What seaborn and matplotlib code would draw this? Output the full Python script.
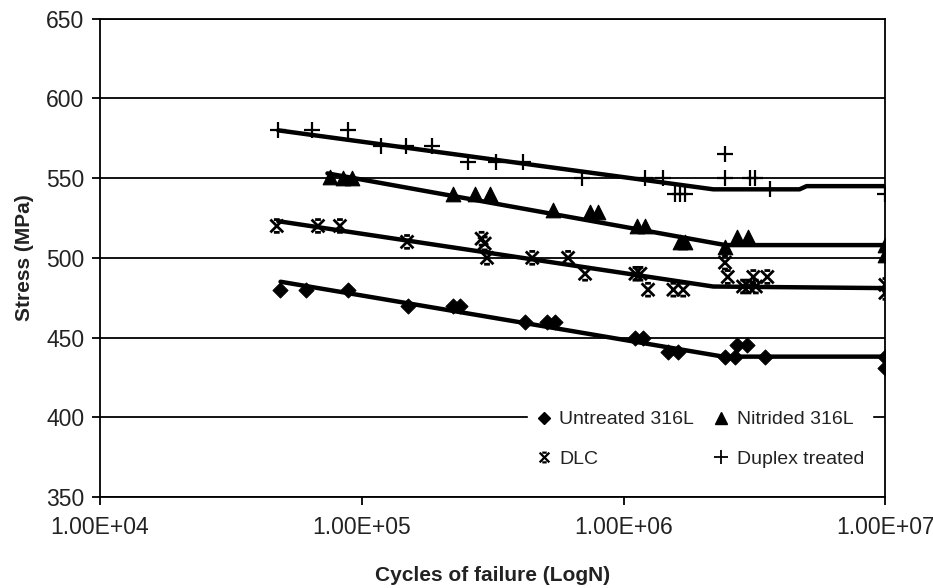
import numpy as np
import pandas as pd
import matplotlib
matplotlib.use("Agg")
import matplotlib.pyplot as plt
from matplotlib.path import Path
from matplotlib.lines import Line2D
from matplotlib.ticker import FixedLocator, FuncFormatter, NullLocator
import seaborn as sns

# measured points (cycles, stress MPa)
untreated_N = [4.88e4, 6.12e4, 8.87e4, 1.50e5, 2.23e5, 2.38e5, 4.21e5, 5.11e5, 5.48e5,
               1.11e6, 1.19e6, 1.48e6, 1.62e6, 2.44e6, 2.67e6, 2.72e6, 2.97e6, 3.48e6, 1e7, 1e7]
untreated_S = [480, 480, 480, 470, 470, 470, 460, 460, 460,
               450, 450, 441, 441, 438, 438, 445, 445, 438, 438, 431]

nitrided_N = [7.57e4, 8.5e4, 9.19e4, 2.23e5, 2.71e5, 3.09e5, 5.38e5, 7.45e5, 8.0e5,
              1.13e6, 1.21e6, 1.64e6, 1.72e6, 2.44e6, 2.72e6, 2.99e6, 1e7, 1e7]
nitrided_S = [551, 550, 550, 540, 540, 540, 530, 529, 529,
              520, 520, 510, 510, 507, 513, 513, 508, 502]

dlc_N = [4.74e4, 6.81e4, 8.26e4, 1.49e5, 2.87e5, 2.95e5, 3.01e5, 4.48e5, 6.14e5, 7.13e5,
         1.11e6, 1.16e6, 1.24e6, 1.55e6, 1.69e6, 2.44e6, 2.5e6, 2.86e6, 3.0e6, 3.2e6,
         3.13e6, 3.54e6, 1e7, 1e7]
dlc_S = [520, 520, 520, 510, 512, 509, 500, 500, 500, 490,
         490, 490, 480, 480, 480, 497, 488, 482, 482, 482,
         488, 488, 483, 478]

duplex_N = [4.79e4, 6.46e4, 8.87e4, 1.19e5, 1.48e5, 1.86e5, 2.55e5, 3.26e5, 4.13e5, 6.95e5,
            1.21e6, 1.42e6, 1.57e6, 1.64e6, 1.72e6, 2.44e6, 2.44e6, 3.05e6, 3.18e6, 3.63e6, 1e7]
duplex_S = [580, 580, 580, 570, 570, 570, 560, 560, 560, 550,
            550, 550, 540, 540, 540, 565, 550, 550, 550, 543, 540]

# trend lines
untreated_fit_N = [4.9e4, 2.4e6, 1e7]
untreated_fit_S = [485, 438, 438]
nitrided_fit_N = [7.4e4, 2.45e6, 1e7]
nitrided_fit_S = [553, 508, 508]
dlc_fit_N = [4.8e4, 2.2e6, 1e7]
dlc_fit_S = [523, 482, 481]
duplex_fit_N = [4.8e4, 2.2e6, 4.7e6, 5.0e6, 1e7]
duplex_fit_S = [580, 543, 543, 545, 545]

x_ticks = [1e4, 1e5, 1e6, 1e7]
y_ticks = [350, 400, 450, 500, 550, 600, 650]

# X with caps, like the excel star marker
dlc_marker = Path(
    [(-1, -1), (1, 1), (-1, 1), (1, -1), (-0.45, 1), (0.45, 1), (-0.45, -1), (0.45, -1)],
    [Path.MOVETO, Path.LINETO, Path.MOVETO, Path.LINETO,
     Path.MOVETO, Path.LINETO, Path.MOVETO, Path.LINETO])

sns.set_style("white")
plt.rcParams["font.family"] = ["Liberation Sans", "DejaVu Sans"]

fig = plt.figure(figsize=(9.33, 5.88), dpi=100)
ax = fig.add_axes([0.107, 0.155, 0.842, 0.813])

for fx, fy in [(untreated_fit_N, untreated_fit_S), (nitrided_fit_N, nitrided_fit_S),
               (dlc_fit_N, dlc_fit_S), (duplex_fit_N, duplex_fit_S)]:
    sns.lineplot(x=fx, y=fy, color="black", lw=3.2, sort=False, estimator=None, ax=ax)

sns.scatterplot(x=untreated_N, y=untreated_S, marker="D", s=60, color="black",
                edgecolor="black", ax=ax, zorder=4)
sns.scatterplot(x=nitrided_N, y=nitrided_S, marker="^", s=110, color="black",
                edgecolor="black", ax=ax, zorder=4)
ax.scatter(dlc_N, dlc_S, marker=dlc_marker, s=85, facecolors="none",
           edgecolors="black", linewidths=2.0, zorder=4)
sns.scatterplot(x=duplex_N, y=duplex_S, marker="+", s=130, color="black",
                linewidth=1.6, ax=ax, zorder=4)

ax.set_xscale("log")
ax.set_xlim(1e4, 1e7)
ax.set_ylim(350, 650)
ax.xaxis.set_major_locator(FixedLocator(x_ticks))
ax.xaxis.set_minor_locator(NullLocator())
ax.xaxis.set_major_formatter(FuncFormatter(lambda v, p: f"{v:.2E}"))
ax.set_yticks(y_ticks)

ax.yaxis.grid(True, color="black", lw=1.3)
ax.set_axisbelow(True)
for sp in ax.spines.values():
    sp.set_color("black")
    sp.set_linewidth(1.3)
ax.tick_params(axis="both", direction="out", length=6, width=1.3, color="black",
               labelsize=16.5, labelcolor="#222222", left=True, bottom=True)
ax.tick_params(axis="x", pad=8)
ax.tick_params(axis="y", pad=5)

ax.set_xlabel("Cycles of failure (LogN)", fontsize=15, fontweight="bold", labelpad=19,
              color="#222222")
ax.set_ylabel("Stress (MPa)", fontsize=15, fontweight="bold", labelpad=9, color="#222222")

handles = [
    Line2D([], [], ls="none", marker="D", ms=6, color="black"),
    Line2D([], [], ls="none", marker=dlc_marker, ms=7, mfc="none", mec="black", mew=1.6),
    Line2D([], [], ls="none", marker="^", ms=8, color="black"),
    Line2D([], [], ls="none", marker="+", ms=10, mew=1.3, color="black"),
]
labels = ["Untreated 316L", "DLC", "Nitrided 316L", "Duplex treated"]
leg = ax.legend(handles, labels, ncol=2, loc="center", bbox_to_anchor=(0.764, 0.12),
                fontsize=14, frameon=True, facecolor="white", edgecolor="white",
                framealpha=1, fancybox=False, labelspacing=1.15, handlelength=0.8,
                handletextpad=0.4, columnspacing=1.0, borderpad=0.4)
for t in leg.get_texts():
    t.set_color("#222222")

fig.savefig("out.png", dpi=100, facecolor="white")
